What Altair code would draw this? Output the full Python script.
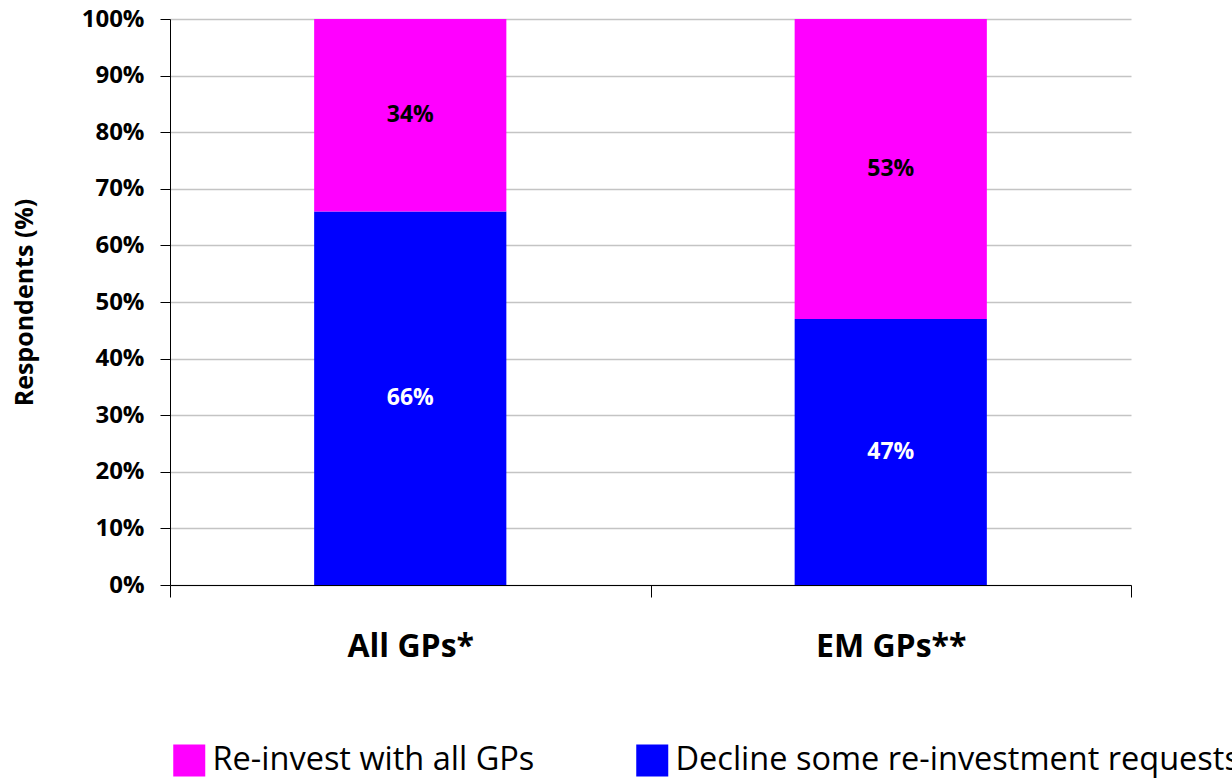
import altair as alt
import pandas as pd

# Survey groups and shares of respondents (%)
groups = ["All GPs*", "EM GPs**"]
decline = [66, 47]
reinvest = [34, 53]

series = ["Re-invest with all GPs", "Decline some re-investment requests"]
colors = ["#FF00FF", "#0000FF"]
text_colors = ["black", "white"]

rows = []
for g, d, r in zip(groups, decline, reinvest):
    # stacking from the bottom: decline first, then re-invest
    rows.append({"group": g, "series": series[1], "value": d, "order": 0,
                 "mid": d / 2, "tcolor": text_colors[1]})
    rows.append({"group": g, "series": series[0], "value": r, "order": 1,
                 "mid": d + r / 2, "tcolor": text_colors[0]})
df = pd.DataFrame(rows)

FONT = "Open Sans"

x_enc = alt.X(
    "group:N",
    sort=groups,
    scale=alt.Scale(paddingInner=0, paddingOuter=0),
    axis=alt.Axis(
        title=None,
        labelAngle=0,
        labelFontSize=32,
        labelFontWeight="bold",
        labelColor="black",
        labelPadding=34,
        tickBand="extent",
        tickSize=12,
        tickColor="black",
        domainColor="black",
        grid=False,
    ),
)

bars = alt.Chart(df).mark_bar(width=alt.RelativeBandSize(0.4)).encode(
    x=x_enc,
    y=alt.Y(
        "value:Q",
        stack="zero",
        scale=alt.Scale(domain=[0, 100]),
        axis=alt.Axis(
            title="Respondents (%)",
            titleFontSize=25,
            titleFontWeight="bold",
            titleColor="black",
            titlePadding=44,
            values=list(range(0, 101, 10)),
            labelExpr="datum.value + '%'",
            labelFontSize=24,
            labelFontWeight="bold",
            labelColor="black",
            labelPadding=16,
            tickSize=10,
            tickColor="black",
            domainColor="black",
            gridColor="#c4c4c4",
            gridWidth=1.5,
        ),
    ),
    color=alt.Color(
        "series:N",
        scale=alt.Scale(domain=series, range=colors),
        legend=alt.Legend(
            title=None,
            orient="none",
            direction="horizontal",
            legendX=3,
            legendY=725,
            symbolType="square",
            symbolSize=1024,
            symbolStrokeWidth=0,
            symbolOpacity=1,
            labelFontSize=32.5,
            labelFont=FONT,
            labelColor="black",
            labelLimit=800,
            labelOffset=7,
            columnPadding=101,
        ),
    ),
    order=alt.Order("order:Q"),
)

labels = alt.Chart(df).transform_calculate(
    label="datum.value + '%'"
).mark_text(fontSize=23, fontWeight="bold").encode(
    x=alt.X("group:N", sort=groups),
    y=alt.Y("mid:Q"),
    text=alt.Text("label:N"),
    color=alt.Color("tcolor:N", scale=None),
)

chart = (
    alt.layer(bars, labels)
    .properties(
        width=961,
        height=566,
        autosize=alt.AutoSizeParams(type="none"),
        padding={"left": 170, "top": 19, "right": 101, "bottom": 193},
        background="white",
    )
    .configure(font=FONT)
    .configure_view(stroke=None)
)

chart.save("out.html", embed_options={"renderer": "svg", "actions": False})
